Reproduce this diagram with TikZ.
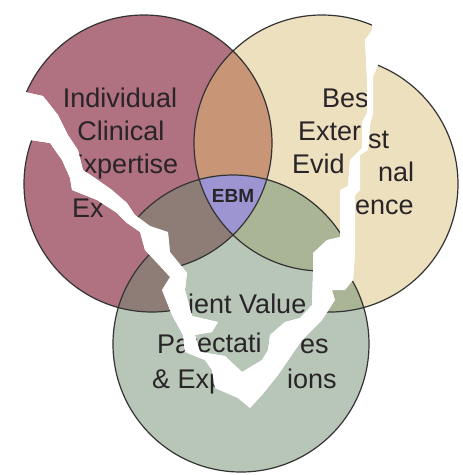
\documentclass[tikz,border=0pt]{standalone}
\usepackage{fontspec}
\setmainfont{Liberation Sans}
\usepackage{tikz}
\usetikzlibrary{positioning}
\definecolor{expertise}{RGB}{176,113,128}
\definecolor{evidence}{RGB}{237,224,191}
\definecolor{values}{RGB}{184,198,184}
\definecolor{expev}{RGB}{200,149,119}
\definecolor{expval}{RGB}{142,124,118}
\definecolor{evval}{RGB}{169,181,149}
\definecolor{ebm}{RGB}{156,149,210}
\definecolor{ink}{RGB}{40,36,40}

% the three overlapping circles with their shared parts
\newcommand{\venn}{%
  \fill[expertise] (144,143) circle[radius=128pt];
  \fill[evidence] (322,143) circle[radius=128pt];
  \fill[values] (233,303) circle[radius=128pt];
  \begin{scope}
    \clip (144,143) circle[radius=128pt];
    \fill[expev] (322,143) circle[radius=128pt];
    \fill[expval] (233,303) circle[radius=128pt];
  \end{scope}
  \begin{scope}
    \clip (322,143) circle[radius=128pt];
    \fill[evval] (233,303) circle[radius=128pt];
    \clip (144,143) circle[radius=128pt];
    \fill[ebm] (233,303) circle[radius=128pt];
  \end{scope}
  \draw[rim] (144,143) circle[radius=128pt];
  \draw[rim] (322,143) circle[radius=128pt];
  \draw[rim] (233,303) circle[radius=128pt];
}

% edges of the tear: lower side, then upper side (right to left)
\newcommand{\tearlow}{(18,103) -- (30,140) -- (50,143) -- (62,160) -- (70,178) -- (72,190) -- (97,200) -- (117,213) -- (127,223) -- (140,232) -- (145,250) -- (158,264) -- (170,277) -- (162,290) -- (172,315) -- (183,335) -- (185,352) -- (205,360) -- (212,370) -- (215,388) -- (238,398) -- (250,408) -- (262,395) -- (278,375) -- (302,340) -- (322,320) -- (335,300) -- (332,290) -- (345,290) -- (353,280) -- (355,253) -- (355,195) -- (360,190) -- (360,155) -- (368,150) -- (370,125) -- (373,113) -- (373,77) -- (380,60) -- (380,40) -- (385,0)}
\newcommand{\tearhigh}{(372,0) -- (372,30) -- (365,40) -- (367,80) -- (367,113) -- (362,122) -- (362,148) -- (358,152) -- (350,160) -- (348,186) -- (340,190) -- (340,237) -- (327,240) -- (313,253) -- (313,273) -- (312,305) -- (300,318) -- (285,322) -- (270,335) -- (268,350) -- (262,360) -- (242,372) -- (225,356) -- (200,352) -- (195,335) -- (212,332) -- (218,322) -- (192,316) -- (185,290) -- (187,273) -- (170,252) -- (168,232) -- (150,226) -- (135,215) -- (127,203) -- (112,190) -- (95,178) -- (83,170) -- (78,150) -- (68,135) -- (58,115) -- (43,96) -- (25,92)}

\begin{document}
\begin{tikzpicture}[x=1pt, y=-1pt,
  rim/.style={draw=black!80, line width=1.2pt},
  lbl/.style={font=\fontsize{27}{32}\selectfont, text=ink, inner sep=0pt},
]
\useasboundingbox (0,0) rectangle (463,475);

% torn-off piece, slipped down and right
\begin{scope}
  \clip (0,475) -- (0,103) -- \tearlow -- (463,0) -- (463,475) -- cycle;
  \begin{scope}[shift={(8,41)}]
    \venn
  \end{scope}
\end{scope}

% piece that stayed in place
\begin{scope}
  \clip (0,0) -- \tearhigh -- (0,92) -- cycle;
  \venn
\end{scope}

% Expertise circle
\node[lbl, anchor=base] (indiv) at (120,107) {Individual};
\node[lbl, anchor=base] (clin) at (121,140) {Clinical};
\node[lbl, anchor=base] (expert) at (122,173) {Expertise};
\node[lbl, anchor=base west] (expfrag) at (72,217) {Ex};

% Evidence circle
\node[lbl, anchor=base west] (best) at (322,107) {Bes};
\node[lbl, anchor=base west] (extern) at (298,140) {Exter};
\node[lbl, anchor=base west] (evid) at (292,173) {Evid};
\node[lbl, anchor=base west] (bestfrag) at (368,148) {st};
\node[lbl, anchor=base west] (externfrag) at (378,181) {nal};
\node[lbl, anchor=base west] (evidfrag) at (355,214) {ence};

% Values circle
\node[lbl, anchor=base west] (values) at (188,313) {ient Value};
\node[lbl, anchor=base west] (valfrag) at (157,353) {Pat};
\node[lbl, anchor=base west] (expect) at (197,352) {ectati};
\node[lbl, anchor=base west] (valend) at (300,353) {es};
\node[lbl, anchor=base west] (amp) at (152,388) {\& Exp};
\node[lbl, anchor=base west] (expectend) at (287,388) {ions};

\node[font=\bfseries\fontsize{19}{22}\selectfont, text=ink, inner sep=0pt, anchor=base] (ebmlbl) at (233,202) {EBM};

% the tear itself
\fill[white] \tearlow -- \tearhigh -- cycle;
\end{tikzpicture}
\end{document}
